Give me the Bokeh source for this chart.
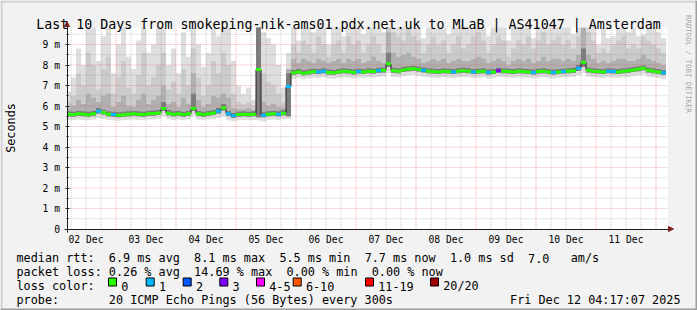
from math import pi
from bokeh.plotting import figure
from bokeh.models import (Range1d, FixedTicker, Label, BoxAnnotation, Arrow, NormalHead, LinearAxis)
from bokeh.embed import file_html
from bokeh.resources import INLINE

# ---------------- data ----------------
title_text = "Last 10 Days from smokeping-nik-ams01.pdx.net.uk to MLaB | AS41047 | Amsterdam"
day_labels = ["02 Dec", "03 Dec", "04 Dec", "05 Dec", "06 Dec",
              "07 Dec", "08 Dec", "09 Dec", "10 Dec", "11 Dec"]
y_tick_labels = ["0", "1 m", "2 m", "3 m", "4 m", "5 m", "6 m", "7 m", "8 m", "9 m"]

# start of each 2-hour column, hours after 02 Dec 00:00
col_hours = [4 + 2 * k for k in range(120)]

median_ms = [
    5.60, 5.58, 5.62, 5.60, 5.57, 5.62, 5.75, 5.68, 5.60, 5.58,
    5.55, 5.57, 5.60, 5.62, 5.60, 5.58, 5.62, 5.63, 5.66, 5.88,
    5.65, 5.60, 5.62, 5.58, 5.62, 5.88, 5.62, 5.58, 5.62, 5.66,
    5.75, 5.90, 5.62, 5.52, 5.58, 5.60, 5.58, 5.60, 7.78, 5.55,
    5.60, 5.62, 5.60, 5.65, 6.95, 7.62, 7.66, 7.60, 7.64, 7.68,
    7.66, 7.70, 7.64, 7.62, 7.66, 7.70, 7.68, 7.64, 7.68, 7.66,
    7.70, 7.68, 7.72, 7.74, 8.06, 7.72, 7.70, 7.76, 7.80, 7.82,
    7.78, 7.74, 7.70, 7.68, 7.66, 7.70, 7.68, 7.66, 7.70, 7.72,
    7.70, 7.66, 7.68, 7.70, 7.64, 7.66, 7.72, 7.70, 7.68, 7.66,
    7.70, 7.68, 7.66, 7.64, 7.68, 7.70, 7.66, 7.64, 7.66, 7.68,
    7.70, 7.72, 7.84, 8.14, 7.74, 7.70, 7.68, 7.66, 7.70, 7.68,
    7.66, 7.70, 7.72, 7.76, 7.80, 7.84, 7.74, 7.70, 7.66, 7.62,
]

lost_pings = [
    0, 0, 0, 0, 0, 0, 1, 0, 0, 1,
    0, 0, 0, 0, 0, 0, 0, 0, 0, 0,
    0, 0, 0, 0, 0, 0, 0, 0, 0, 0,
    1, 0, 1, 1, 0, 0, 0, 0, 0, 1,
    0, 0, 1, 0, 1, 0, 0, 0, 0, 0,
    1, 1, 0, 0, 0, 0, 0, 0, 1, 0,
    0, 0, 1, 0, 0, 0, 0, 0, 0, 0,
    0, 1, 0, 0, 0, 0, 0, 1, 0, 0,
    0, 1, 0, 0, 1, 0, 3, 0, 0, 0,
    0, 0, 0, 1, 0, 0, 0, 1, 0, 1,
    0, 0, 1, 0, 0, 0, 0, 0, 1, 1,
    0, 0, 0, 0, 0, 0, 0, 0, 0, 1,
]

smoke_min = [
    5.32, 5.30, 5.34, 5.32, 5.30, 5.34, 5.40, 5.36, 5.32, 5.30,
    5.28, 5.30, 5.32, 5.34, 5.32, 5.30, 5.34, 5.34, 5.36, 5.50,
    5.36, 5.32, 5.34, 5.30, 5.34, 5.52, 5.34, 5.30, 5.34, 5.36,
    5.42, 5.50, 5.30, 5.26, 5.30, 5.32, 5.30, 5.32, 5.30, 5.26,
    5.32, 5.34, 5.32, 5.36, 5.36, 7.32, 7.36, 7.30, 7.34, 7.38,
    7.36, 7.40, 7.34, 7.32, 7.36, 7.40, 7.38, 7.34, 7.38, 7.36,
    7.40, 7.38, 7.42, 7.44, 7.60, 7.42, 7.40, 7.46, 7.50, 7.52,
    7.48, 7.44, 7.40, 7.38, 7.36, 7.40, 7.38, 7.36, 7.40, 7.42,
    7.40, 7.36, 7.38, 7.40, 7.34, 7.36, 7.42, 7.40, 7.38, 7.36,
    7.40, 7.38, 7.36, 7.34, 7.38, 7.40, 7.36, 7.34, 7.36, 7.38,
    7.40, 7.42, 7.50, 7.60, 7.44, 7.40, 7.38, 7.36, 7.40, 7.38,
    7.36, 7.40, 7.42, 7.46, 7.50, 7.54, 7.44, 7.40, 7.36, 7.32,
]

smoke_inner_low = [
    5.50, 5.48, 5.52, 5.50, 5.47, 5.52, 5.64, 5.58, 5.50, 5.48,
    5.45, 5.47, 5.50, 5.52, 5.50, 5.48, 5.52, 5.53, 5.56, 5.76,
    5.55, 5.50, 5.52, 5.48, 5.52, 5.76, 5.52, 5.48, 5.52, 5.56,
    5.64, 5.78, 5.52, 5.42, 5.48, 5.50, 5.48, 5.50, 5.45, 5.45,
    5.50, 5.52, 5.50, 5.55, 5.50, 7.52, 7.56, 7.50, 7.54, 7.58,
    7.56, 7.60, 7.54, 7.52, 7.56, 7.60, 7.58, 7.54, 7.58, 7.56,
    7.60, 7.58, 7.62, 7.64, 7.90, 7.62, 7.60, 7.66, 7.70, 7.72,
    7.68, 7.64, 7.60, 7.58, 7.56, 7.60, 7.58, 7.56, 7.60, 7.62,
    7.60, 7.56, 7.58, 7.60, 7.54, 7.56, 7.62, 7.60, 7.58, 7.56,
    7.60, 7.58, 7.56, 7.54, 7.58, 7.60, 7.56, 7.54, 7.56, 7.58,
    7.60, 7.62, 7.72, 7.90, 7.64, 7.60, 7.58, 7.56, 7.60, 7.58,
    7.56, 7.60, 7.62, 7.66, 7.70, 7.74, 7.64, 7.60, 7.56, 7.52,
]

smoke_max = [
    6.7, 7.4, 8.8, 8.0, 10.5, 10.5, 8.2, 9.4, 10.5, 7.6,
    9.0, 10.5, 8.4, 7.8, 9.2, 10.5, 8.6, 9.0, 10.5, 10.5,
    8.0, 8.8, 7.6, 9.6, 8.4, 10.5, 9.0, 7.9, 8.6, 10.5,
    9.4, 10.5, 10.5, 8.2, 7.0, 6.6, 6.9, 6.3, 10.5, 9.6,
    9.3, 9.0, 8.0, 6.9, 8.6, 10.5, 9.2, 10.5, 10.5, 9.6,
    10.5, 10.5, 9.0, 10.5, 10.5, 9.4, 10.5, 10.5, 10.5, 9.5,
    10.5, 10.5, 10.5, 9.6, 10.5, 10.5, 10.5, 10.5, 10.5, 10.5,
    10.5, 9.3, 10.5, 10.5, 10.5, 10.5, 9.5, 10.5, 10.5, 10.5,
    10.5, 10.5, 10.5, 10.5, 9.4, 10.5, 10.5, 10.5, 9.2, 10.5,
    10.5, 10.5, 10.5, 9.3, 10.5, 10.5, 10.5, 10.5, 10.5, 10.5,
    10.5, 9.5, 10.5, 10.5, 10.5, 10.5, 9.0, 10.5, 9.3, 9.4,
    10.5, 10.5, 9.6, 10.5, 9.4, 9.5, 10.5, 10.5, 9.6, 9.3,
]

smoke_q2 = [
    6.2, 6.5, 7.6, 7.0, 8.6, 8.0, 6.8, 7.8, 8.4, 6.6,
    7.4, 8.2, 6.9, 6.6, 7.5, 8.6, 7.0, 7.4, 8.0, 8.6,
    6.8, 7.2, 6.6, 7.8, 7.0, 8.8, 7.4, 6.5, 7.0, 8.2,
    7.6, 8.6, 8.0, 6.6, 6.2, 6.1, 6.2, 6.0, 10.5, 7.6,
    7.2, 7.0, 6.6, 6.2, 7.8, 9.0, 8.6, 9.2, 9.0, 8.6,
    9.4, 9.0, 8.4, 9.0, 9.2, 8.6, 9.4, 9.0, 9.2, 8.6,
    9.0, 9.4, 9.0, 8.6, 10.5, 9.6, 9.4, 9.2, 9.8, 9.4,
    9.2, 8.6, 9.0, 9.4, 9.0, 9.2, 8.6, 9.0, 9.4, 8.8,
    9.0, 9.4, 9.6, 9.2, 8.6, 9.0, 9.4, 9.2, 8.4, 8.8,
    9.2, 9.0, 9.4, 8.8, 9.2, 9.6, 9.0, 9.2, 9.4, 9.0,
    9.2, 8.8, 9.4, 10.5, 9.6, 9.2, 8.6, 8.8, 8.6, 9.0,
    9.2, 9.4, 8.8, 9.0, 8.8, 9.4, 9.2, 9.0, 8.8, 8.6,
]

smoke_q3 = [
    5.90, 6.00, 6.30, 6.10, 6.60, 6.40, 6.20, 6.50, 6.60, 5.95,
    6.20, 6.50, 6.00, 5.95, 6.30, 6.60, 6.10, 6.30, 6.50, 7.00,
    6.10, 6.20, 5.95, 6.40, 6.10, 7.60, 6.30, 5.95, 6.10, 6.50,
    6.40, 6.60, 6.40, 5.90, 5.85, 5.85, 5.90, 5.80, 10.5, 6.20,
    6.00, 6.10, 5.95, 5.90, 7.80, 8.30, 8.10, 8.30, 8.20, 8.10,
    8.30, 8.20, 8.10, 8.20, 8.30, 8.10, 8.30, 8.20, 8.30, 8.10,
    8.20, 8.40, 8.20, 8.10, 9.60, 8.60, 8.40, 8.50, 8.60, 8.40,
    8.30, 8.10, 8.20, 8.30, 8.20, 8.30, 8.10, 8.20, 8.30, 8.20,
    8.20, 8.30, 8.40, 8.30, 8.10, 8.20, 8.30, 8.20, 8.00, 8.20,
    8.30, 8.20, 8.30, 8.10, 8.20, 8.40, 8.20, 8.30, 8.30, 8.20,
    8.30, 8.20, 8.50, 9.80, 8.50, 8.30, 8.10, 8.20, 8.10, 8.20,
    8.30, 8.30, 8.20, 8.20, 8.30, 8.50, 8.30, 8.20, 8.10, 8.00,
]

smoke_q4 = [
    5.74, 5.72, 5.76, 5.74, 5.72, 5.76, 5.90, 5.82, 5.74, 5.72,
    5.70, 5.72, 5.74, 5.76, 5.74, 5.72, 5.76, 5.78, 5.80, 6.20,
    5.80, 5.74, 5.76, 5.72, 5.76, 6.60, 5.76, 5.72, 5.76, 5.80,
    5.90, 6.10, 5.76, 5.66, 5.72, 5.74, 5.72, 5.74, 10.5, 5.70,
    5.74, 5.76, 5.74, 5.80, 7.60, 7.76, 7.80, 7.74, 7.78, 7.82,
    7.80, 7.84, 7.78, 7.76, 7.80, 7.84, 7.82, 7.78, 7.82, 7.80,
    7.84, 7.82, 7.86, 7.88, 8.60, 7.86, 7.84, 7.90, 7.94, 7.96,
    7.92, 7.88, 7.84, 7.82, 7.80, 7.84, 7.82, 7.80, 7.84, 7.86,
    7.84, 7.80, 7.82, 7.84, 7.78, 7.80, 7.86, 7.84, 7.82, 7.80,
    7.84, 7.82, 7.80, 7.78, 7.82, 7.84, 7.80, 7.78, 7.80, 7.82,
    7.84, 7.86, 8.00, 8.80, 7.88, 7.84, 7.82, 7.80, 7.84, 7.82,
    7.80, 7.84, 7.86, 7.90, 7.94, 7.98, 7.88, 7.84, 7.80, 7.76,
]

loss_labels = ["0", "1", "2", "3", "4-5", "6-10", "11-19", "20/20"]
loss_colors = ["#26ff00", "#00b8ff", "#0059ff", "#7e00ff",
               "#ff00ff", "#ff5500", "#ff0000", "#a10000"]

# legend rows: (character column, text)
stats_rtt = [(0, "median rtt:"), (13, "6.9 ms avg"), (25, "8.1 ms max"), (37, "5.5 ms min"),
             (49, "7.7 ms now"), (61, "1.0 ms sd"), (72, "7.0"), (78, "am/s")]
stats_loss = [(0, "packet loss:"), (13, "0.26 % avg"), (25, "14.69 % max"),
              (38, "0.00 % min"), (50, "0.00 % now")]
loss_caption = [(0, "loss color:")]
probe_row = [(0, "probe:"), (13, "20 ICMP Echo Pings (56 Bytes) every 300s")]
date_text = "Fri Dec 12 04:17:07 2025"
watermark = "RRDTOOL / TOBI OETIKER"

# ---------------- geometry (pixels of the 697x310 image) ----------------
W, H = 697, 310
PX_PER_HOUR = 2.5
PX_PER_MS = 20.5
MIDNIGHT_X = 55.5      # pixel column of 02 Dec 00:00
ZERO_Y = 228.5         # pixel row of 0 ms
MONO = "DejaVu Sans Mono"
LEG_SIZE = 11.8
CHAR_W = LEG_SIZE * 0.6021


def px_x(X):
    return (X - MIDNIGHT_X) / PX_PER_HOUR


def px_y(Y):
    return (ZERO_Y - Y) / PX_PER_MS


PL, PR = px_x(67), px_x(667)      # plot area in hours
PT = px_y(27)                     # top of plot area in ms

p = figure(width=W, height=H, x_range=Range1d(px_x(0), px_x(W)), y_range=Range1d(px_y(H), px_y(0)),
           output_backend="svg", toolbar_location=None, title_location=None,
           x_axis_type=None, y_axis_type=None,
           min_border_left=0, min_border_right=0, min_border_top=0, min_border_bottom=0)
p.background_fill_color = "#f2f2f2"
p.border_fill_color = "#f2f2f2"
p.outline_line_color = None
p.xgrid.visible = False
p.ygrid.visible = False

# white canvas of the graph
p.quad(left=[PL], right=[PR], bottom=[0], top=[PT], fill_color="#ffffff", line_color=None)

# smoke bands (step areas), clipped at the graph's upper limit
xs = [max(h, PL) for h in col_hours] + [col_hours[-1] + 2]


def ext(a):
    return [min(v, PT) for v in a] + [min(a[-1], PT)]


p.varea_step(x=xs, y1=ext(smoke_min), y2=ext(smoke_max), step_mode="after", fill_color="#dedede")
p.varea_step(x=xs, y1=ext(smoke_inner_low), y2=ext(smoke_q2), step_mode="after", fill_color="#cbcbcb")
p.varea_step(x=xs, y1=ext(smoke_inner_low), y2=ext(smoke_q3), step_mode="after", fill_color="#b0b0b0")
p.varea_step(x=xs, y1=ext(smoke_inner_low), y2=ext(smoke_q4), step_mode="after", fill_color="#7c7c7c")

# grid (dotted, drawn over the smoke like rrdtool)
x_major = [24 * i for i in range(1, 11)]
x_minor = [6 * i for i in range(1, 41) if i % 4]
y_major = list(range(1, 10))
y_minor = [i + 0.5 for i in range(10)]
p.segment(x0=x_minor, x1=x_minor, y0=[0] * len(x_minor), y1=[PT] * len(x_minor),
          line_color="#8f8f8f", line_alpha=0.45, line_dash="1 1", line_width=1)
p.segment(x0=[PL] * len(y_minor), x1=[PR] * len(y_minor), y0=y_minor, y1=y_minor,
          line_color="#8f8f8f", line_alpha=0.45, line_dash="1 1", line_width=1)
p.segment(x0=x_major, x1=x_major, y0=[0] * len(x_major), y1=[PT] * len(x_major),
          line_color="#de4f4f", line_alpha=0.45, line_dash="1 1", line_width=1)
p.segment(x0=[PL] * len(y_major), x1=[PR] * len(y_major), y0=y_major, y1=y_major,
          line_color="#de4f4f", line_alpha=0.45, line_dash="1 1", line_width=1)

# median line + loss colour band
p.step(x=xs, y=list(median_ms) + [median_ms[-1]], mode="after", line_color="#202020", line_width=1)


def loss_index(n):
    if n <= 3:
        return n
    if n <= 5:
        return 4
    if n <= 10:
        return 5
    if n <= 19:
        return 6
    return 7


band = 1.5 / PX_PER_MS
p.quad(left=xs[:-1], right=[h + 2 for h in col_hours],
       bottom=[m - band for m in median_ms], top=[m + band for m in median_ms],
       fill_color=[loss_colors[loss_index(n)] for n in lost_pings], line_color=None)

# axes (library axes, fixed at the graph's origin)
xaxis = LinearAxis(fixed_location=0, bounds=(px_x(63.5), px_x(668)),
                   ticker=FixedTicker(ticks=[12 + 24 * i for i in range(len(day_labels))]))
xaxis.major_label_overrides = {12 + 24 * i: s for i, s in enumerate(day_labels)}
xaxis.major_tick_line_color = None
xaxis.minor_tick_line_color = None
xaxis.major_tick_out = 0
xaxis.major_tick_in = 0
xaxis.major_label_standoff = 5
yaxis = LinearAxis(fixed_location=px_x(66.5), bounds=(px_y(231.5), px_y(26)),
                   ticker=FixedTicker(ticks=list(range(10)), minor_ticks=[i + 0.5 for i in range(10)]))
yaxis.major_label_overrides = {i: s for i, s in enumerate(y_tick_labels)}
yaxis.major_tick_in = 2
yaxis.major_tick_out = 2
yaxis.minor_tick_in = 1
yaxis.minor_tick_out = 1
yaxis.major_label_standoff = 5
yaxis.major_tick_line_color = "#1f1f1f"
yaxis.minor_tick_line_color = "#1f1f1f"
for ax in (xaxis, yaxis):
    ax.axis_line_color = "#1f1f1f"
    ax.major_label_text_font = MONO
    ax.major_label_text_font_size = "9.7px"
    ax.major_label_text_color = "#000000"
p.add_layout(xaxis, "below")
p.add_layout(yaxis, "left")

# arrows at the axis ends
p.add_layout(Arrow(end=NormalHead(size=5, fill_color="#801f1f", line_color="#801f1f", line_width=1),
                   x_start=px_x(668), y_start=0, x_end=px_x(673), y_end=0,
                   line_color="#801f1f", line_width=1))
p.add_layout(Arrow(end=NormalHead(size=5, fill_color="#801f1f", line_color="#801f1f", line_width=1),
                   x_start=px_x(66.5), y_start=px_y(26), x_end=px_x(66.5), y_end=px_y(21),
                   line_color="#801f1f", line_width=1))


def add_text(X, Y, text, size, align="left", baseline="alphabetic", angle=0.0, color="#000000"):
    p.add_layout(Label(x=px_x(X), y=px_y(Y), text=text, text_font=MONO, text_font_size=size,
                       text_align=align, text_baseline=baseline, angle=angle, text_color=color))


def add_row(Y, row):
    for col, text in row:
        add_text(16 + col * CHAR_W, Y, text, f"{LEG_SIZE}px")


add_text(348, 24, title_text, "13.3px", align="center")
add_text(10, 127.5, "Seconds", f"{LEG_SIZE}px", align="center", baseline="middle", angle=pi / 2)
add_text(687.5, 63.5, watermark, "7.4px", align="center", baseline="middle", angle=-pi / 2, color="#a8a8a8")
add_row(257.5, stats_rtt)
add_row(271.5, stats_loss)
add_row(285.5, loss_caption)
add_row(299.5, probe_row)
add_text(680, 299.5, date_text, f"{LEG_SIZE}px", align="right")

box_left = [108, 145.7, 182.7, 219.3, 256, 292.7, 365, 430]
for bx, lab, col in zip(box_left, loss_labels, loss_colors):
    p.add_layout(BoxAnnotation(left=px_x(bx), right=px_x(bx + 8), top=px_y(277.5), bottom=px_y(285.5),
                               fill_color=col, fill_alpha=1.0, line_color="#000000",
                               line_alpha=1.0, line_width=1))
    add_text(bx + 12.7, 285.5, lab, f"{LEG_SIZE}px")

# 3-D frame around the image
for (l, r, t, b, c) in [(0, 697, 0, 2, "#cfcfcf"), (0, 2, 0, 310, "#cfcfcf"),
                        (695, 697, 0, 310, "#9e9e9e"), (0, 697, 308, 310, "#9e9e9e")]:
    p.add_layout(BoxAnnotation(left=px_x(l), right=px_x(r), top=px_y(t), bottom=px_y(b),
                               fill_color=c, fill_alpha=1.0, line_color=None))

open("out.html", "w").write(file_html(p, INLINE))
